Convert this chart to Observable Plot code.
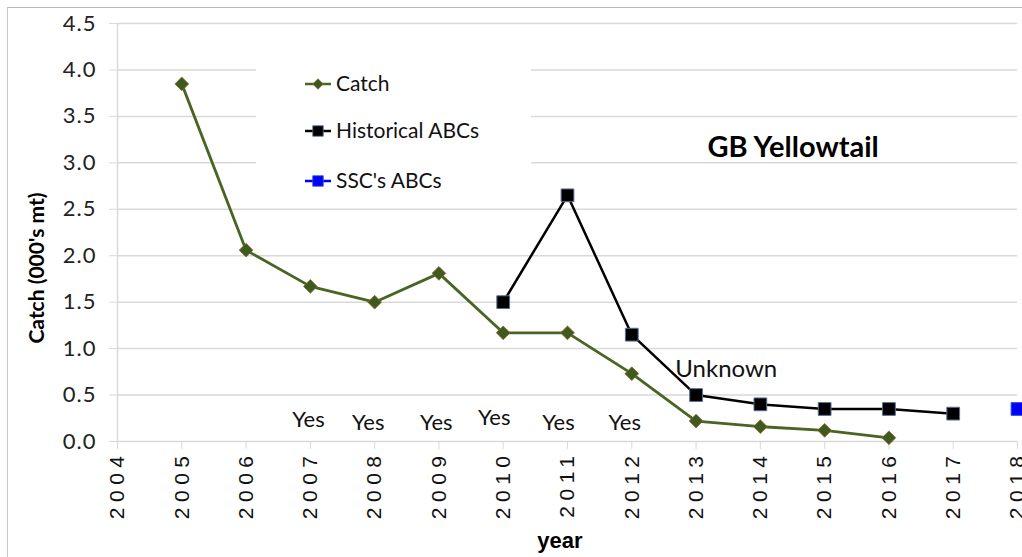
<!DOCTYPE html>
<html>
<head>
<meta charset="utf-8">
<script src="https://cdn.jsdelivr.net/npm/d3@7"></script>
<script src="https://cdn.jsdelivr.net/npm/@observablehq/plot@0.6"></script>
<style>
  html, body { margin: 0; padding: 0; background: #fff; }
  #wrap { position: relative; width: 1022px; height: 557px; overflow: hidden; }
  #wrap svg { display: block; }
  .xticks text { letter-spacing: 5.5px; }
  .yticks text { letter-spacing: 1px; }
  .frameTop { position: absolute; left: 7px; top: 7px; width: 1015px; height: 0; border-top: 1.5px solid #b8b8b8; }
  .frameLeft { position: absolute; left: 7px; top: 7px; width: 0; height: 560px; border-left: 1.5px solid #c8c8c8; }
  .ytitle { position: absolute; left: 35px; top: 268px; transform: translate(-50%, -50%) rotate(-90deg);
            font: bold 21px Lato, sans-serif; white-space: nowrap; color: #000; }
  .xtitle { position: absolute; left: 560px; top: 541px; transform: translate(-50%, -50%);
            font: bold 22px "Liberation Sans", Arial, sans-serif; white-space: nowrap; color: #000; }
  #legend { position: absolute; left: 256px; top: 50px; }
</style>
</head>
<body>
<div id="wrap"></div>
<script>
// ---- data ----
const catchYears   = [2005, 2006, 2007, 2008, 2009, 2010, 2011, 2012, 2013, 2014, 2015, 2016];
const catchValues  = [3.85, 2.06, 1.67, 1.50, 1.81, 1.17, 1.17, 0.73, 0.22, 0.16, 0.12, 0.04];
const histYears    = [2010, 2011, 2012, 2013, 2014, 2015, 2016, 2017];
const histValues   = [1.50, 2.65, 1.15, 0.50, 0.40, 0.35, 0.35, 0.30];
const sscYears     = [2018];
const sscValues    = [0.35];
const xTicks       = [2004, 2005, 2006, 2007, 2008, 2009, 2010, 2011, 2012, 2013, 2014, 2015, 2016, 2017, 2018];
const yTicks       = [0, 0.5, 1.0, 1.5, 2.0, 2.5, 3.0, 3.5, 4.0, 4.5];
const yesLabels    = ["Yes", "Yes", "Yes", "Yes", "Yes", "Yes"];
const yesYears     = [2006.97, 2007.9, 2008.96, 2009.86, 2010.86, 2011.89];
const yesValues    = [0.23, 0.205, 0.205, 0.25, 0.205, 0.195];
const noteLabels   = ["Unknown"];
const noteYears    = [2013.47];
const noteValues   = [0.775];
const titleText    = "GB Yellowtail";
const titleYear    = 2014.51;
const titleValue   = 3.165;
const legendLabels = ["Catch", "Historical ABCs", "SSC's ABCs"];

// ---- tables ----
const catchData = catchYears.map((x, i) => ({x, y: catchValues[i]}));
const histData  = histYears.map((x, i) => ({x, y: histValues[i]}));
const sscData   = sscYears.map((x, i) => ({x, y: sscValues[i]}));
const yesData   = yesYears.map((x, i) => ({x, y: yesValues[i], t: yesLabels[i]}));
const noteData  = noteYears.map((x, i) => ({x, y: noteValues[i], t: noteLabels[i]}));

const GRID = "#d9d9d9";
const GREEN = "#4a6424";
const GREEN_FILL = "#3f5a1f";

const chart = Plot.plot({
  width: 1022,
  height: 557,
  marginLeft: 117,
  marginRight: 5,
  marginTop: 23,
  marginBottom: 116,
  style: {background: "#fff", overflow: "visible"},
  x: {type: "linear", domain: [2004, 2018]},
  y: {domain: [0, 4.5]},
  marks: [
    Plot.ruleY(yTicks.filter(v => v > 0), {stroke: GRID, strokeWidth: 1.5}),
    Plot.ruleX([2004], {stroke: GRID, strokeWidth: 1.5}),
    Plot.ruleY([0], {stroke: GRID, strokeWidth: 1.5}),
    Plot.axisY({
      ticks: yTicks, tickFormat: d3.format(".1f"), tickSize: 8, tickPadding: 13,
      stroke: GRID, fill: "#222", fontSize: 22, label: null,
      fontFamily: "Lato, sans-serif", className: "yticks"
    }),
    Plot.axisX({
      ticks: xTicks, tickFormat: d => String(d), tickSize: 8, tickPadding: 1, tickRotate: -90,
      stroke: GRID, fill: "#111", fontSize: 21, label: null,
      fontFamily: "'Liberation Sans', Arial, sans-serif", className: "xticks"
    }),
    Plot.line(catchData, {x: "x", y: "y", stroke: GREEN, strokeWidth: 2.8}),
    Plot.line(histData, {x: "x", y: "y", stroke: "#000", strokeWidth: 2.5}),
    Plot.dot(catchData, {x: "x", y: "y", symbol: "diamond2", r: 6.2, fill: GREEN_FILL, stroke: "#8a6a2e", strokeWidth: 0.8}),
    Plot.dot(histData, {x: "x", y: "y", symbol: "square", r: 7.2, fill: "#000", stroke: "#5a7090", strokeWidth: 1}),
    Plot.dot(sscData, {x: "x", y: "y", symbol: "square", r: 7.2, fill: "#0000ff", stroke: "#3050d0", strokeWidth: 1, clip: false}),
    Plot.text(yesData, {x: "x", y: "y", text: "t", fontSize: 22, fill: "#111", fontFamily: "Lato, sans-serif"}),
    Plot.text(noteData, {x: "x", y: "y", text: "t", fontSize: 24, fill: "#111", fontFamily: "Lato, sans-serif"}),
    Plot.text([titleText], {x: titleYear, y: titleValue, text: d => d, fontSize: 29, fontWeight: "bold", fill: "#000", fontFamily: "Lato, sans-serif"})
  ]
});

const wrap = document.getElementById("wrap");
wrap.appendChild(chart);

// frame + axis titles
const ft = document.createElement("div"); ft.className = "frameTop"; wrap.appendChild(ft);
const fl = document.createElement("div"); fl.className = "frameLeft"; wrap.appendChild(fl);
const yt = document.createElement("div"); yt.className = "ytitle"; yt.textContent = "Catch (000's mt)"; wrap.appendChild(yt);
const xt = document.createElement("div"); xt.className = "xtitle"; xt.textContent = "year"; wrap.appendChild(xt);

// legend (white box covering gridlines)
const lg = d3.create("svg").attr("id", "legend").attr("width", 275).attr("height", 150);
lg.append("rect").attr("width", 275).attr("height", 150).attr("fill", "#fff");
const rowsY = [34, 81, 131];
const kinds = [
  {stroke: GREEN, fill: GREEN_FILL, mstroke: "#8a6a2e", sym: d3.symbolDiamond2, size: 70},
  {stroke: "#000", fill: "#000", mstroke: "#5a7090", sym: d3.symbolSquare, size: 110},
  {stroke: "#0000ff", fill: "#0000ff", mstroke: "#3050d0", sym: d3.symbolSquare, size: 110}
];
legendLabels.forEach((lab, i) => {
  const g = lg.append("g").attr("transform", `translate(0,${rowsY[i]})`);
  g.append("line").attr("x1", 49).attr("x2", 75).attr("stroke", kinds[i].stroke).attr("stroke-width", 2.5);
  g.append("path").attr("d", d3.symbol(kinds[i].sym, kinds[i].size)()).attr("transform", "translate(62,0)")
    .attr("fill", kinds[i].fill).attr("stroke", kinds[i].mstroke).attr("stroke-width", 0.8);
  g.append("text").attr("x", 80).attr("dy", "0.35em").attr("font-family", "Lato, sans-serif")
    .attr("font-size", 21).attr("fill", "#111").text(lab);
});
wrap.appendChild(lg.node());
</script>
</body>
</html>
